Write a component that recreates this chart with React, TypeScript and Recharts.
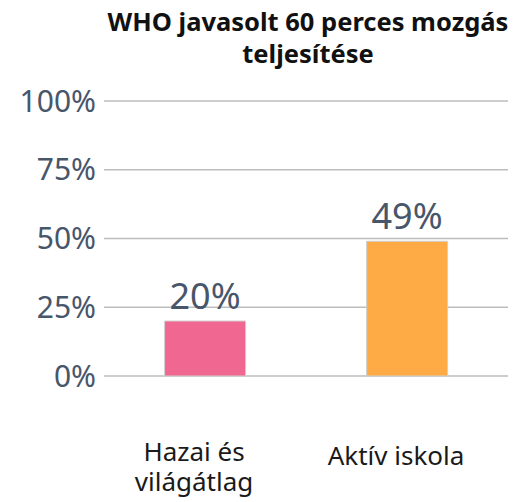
import { BarChart, Bar, XAxis, YAxis, CartesianGrid, LabelList, Cell } from "recharts";

// ---------------------------------------------------------------------------
// Data
// ---------------------------------------------------------------------------
const categories = ["Hazai és világátlag", "Aktív iskola"];
const values = [20, 49];
const barColors = ["#f06791", "#ffab45"];
const yTicks = [0, 25, 50, 75, 100];
const title = ["WHO javasolt 60 perces mozgás", "teljesítése"];

const rows = categories.map((name, i) => ({ name, value: values[i] }));

const FONT = "'Noto Sans', 'Open Sans', sans-serif";
const TICK_COLOR = "#48566a";

// x tick: long labels wrap onto two lines
function CategoryTick({ x, y, payload }: any) {
  const words = String(payload.value).split(" ");
  const lines = words.length > 2 ? [words.slice(0, 2).join(" "), words.slice(2).join(" ")] : [words.join(" ")];
  const baseY = y + 81 - (lines.length - 1) * 4;
  return (
    <text x={x - 11} y={baseY} textAnchor="middle" fontFamily={FONT} fontSize={26} fill="#1a1a1a">
      {lines.map((l, i) => (
        <tspan key={i} x={x - 11} dy={i === 0 ? 0 : 30}>
          {l}
        </tspan>
      ))}
    </text>
  );
}

export default function App() {
  return (
    <div style={{ position: "absolute", left: 0, top: 0, width: 527, height: 502, background: "#fff" }}>
      <div
        style={{
          position: "absolute",
          left: 78,
          width: 460,
          top: 5,
          textAlign: "center",
          fontFamily: FONT,
          fontWeight: 700,
          fontSize: 25.5,
          lineHeight: "32px",
          color: "#111",
        }}
      >
        {title.map((t) => (
          <div key={t}>{t}</div>
        ))}
      </div>
      <BarChart
        width={527}
        height={502}
        data={rows}
        margin={{ top: 101, right: 19, bottom: 0, left: 0 }}
        barCategoryGap="30%"
      >
        <CartesianGrid vertical={false} stroke="#bdbdbd" strokeWidth={1.3} />
        <XAxis
          dataKey="name"
          height={126}
          axisLine={false}
          tickLine={false}
          tick={<CategoryTick />}
          interval={0}
        />
        <YAxis
          width={104}
          domain={[0, 100]}
          ticks={yTicks}
          axisLine={false}
          tickLine={false}
          tickFormatter={(v) => `${v}%`}
          tick={{ fontSize: 30, fill: TICK_COLOR, fontFamily: FONT }}
        />
        <Bar dataKey="value" stroke="#d0d0d0" strokeWidth={1} isAnimationActive={false}>
          {rows.map((r, i) => (
            <Cell key={r.name} fill={barColors[i]} />
          ))}
          <LabelList
            dataKey="value"
            position="top"
            offset={12}
            formatter={(v: any) => `${v}%`}
            style={{ fontSize: 36, fill: TICK_COLOR, fontFamily: FONT }}
          />
        </Bar>
      </BarChart>
    </div>
  );
}
